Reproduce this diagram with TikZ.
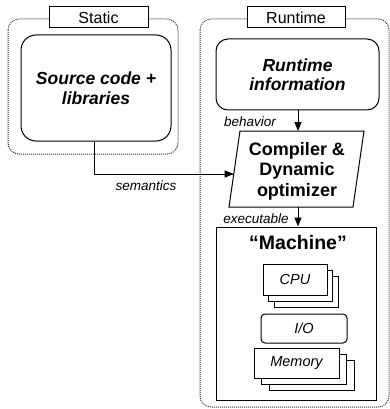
\documentclass[tikz,border=0pt]{standalone}
\usepackage{fontspec}
\setmainfont{Liberation Sans}
\usetikzlibrary{arrows.meta}
\begin{document}
\begin{tikzpicture}[x=1pt,y=-1pt,
  solid line/.style={draw=black,line width=1pt},
  dotbox/.style={draw=black!80,line width=1pt,dash pattern=on 1pt off 1pt,rounded corners=11pt},
  labelbox/.style={solid line,fill=white,inner sep=0pt,font=\fontsize{16}{18}\selectfont},
  bigbox/.style={solid line,inner sep=0pt,align=center,font=\fontsize{17.5}{19.5}\selectfont\bfseries\itshape},
  stackbox/.style={solid line,fill=white,inner sep=0pt,font=\fontsize{14.5}{16}\selectfont\itshape},
  edgelabel/.style={inner sep=0pt,font=\fontsize{13.5}{15}\selectfont\itshape},
  arr/.style={solid line,-{Triangle[length=9pt,width=7pt]}}]
\useasboundingbox (0,0) rectangle (390,409);
% dotted groups
\draw[dotbox] (8,19) rectangle (178,154);
\draw[dotbox] (200,19) rectangle (389,407);
% labels
\node[labelbox,minimum width=99pt,minimum height=21pt] (static) at (98.5,17.5) {Static};
\node[labelbox,minimum width=98pt,minimum height=21pt] (runtime) at (296,17.5) {Runtime};
% source box
\node[bigbox,rounded corners=15pt,minimum width=150pt,minimum height=106pt] (src) at (96,88) {Source code +\\libraries};
% runtime info
\node[bigbox,rounded corners=12pt,minimum width=163pt,minimum height=71pt] (rinfo) at (297.5,74.5) {Runtime\\information};
% compiler
\draw[solid line] (229,207) -- (240,131) -- (364,131) -- (353,207) -- cycle;
\node[inner sep=0pt,align=center,font=\fontsize{18}{20.5}\selectfont\bfseries] (comp) at (297,171) {Compiler \&\\Dynamic\\optimizer};
\coordinate (compT) at (298,131);
\coordinate (compB) at (298,207);
\coordinate (compL) at (233.7,174);
% machine
\node[solid line,minimum width=160pt,minimum height=173pt,inner sep=0pt] (mach) at (296,313.5) {};
\node[inner sep=0pt,font=\fontsize{19.5}{21}\selectfont\bfseries] (machtitle) at (298,243) {“Machine”};
% CPU stack
\draw[solid line,fill=white] (274,276) rectangle (338,307);
\draw[solid line,fill=white] (268.5,270) rectangle (332.5,301);
\node[stackbox,minimum width=64pt,minimum height=31pt] (cpu) at (295,279.5) {CPU};
% I/O
\node[stackbox,rounded corners=4pt,minimum width=86pt,minimum height=29pt] (io) at (304,328.5) {I/O};
% Memory stack
\draw[solid line,fill=white] (269,360.5) rectangle (354,390.5);
\draw[solid line,fill=white] (261.5,354.25) rectangle (346.5,384.25);
\node[stackbox,minimum width=85pt,minimum height=30pt] (mem) at (296.5,363) {Memory};
% connectors
\draw[solid line] ([xshift=-2pt]src.south) |- (compL);
\draw[arr] ([xshift=-20pt]compL) -- (compL);
\draw[arr] (rinfo.south -| compT) -- (compT);
\draw[arr] (compB) -- (compB |- mach.north);
% edge labels
\node[edgelabel] (lsem) at (146,186) {semantics};
\node[edgelabel] (lbeh) at (250,122) {behavior};
\node[edgelabel] (lexe) at (256,219) {executable};
\end{tikzpicture}
\end{document}
